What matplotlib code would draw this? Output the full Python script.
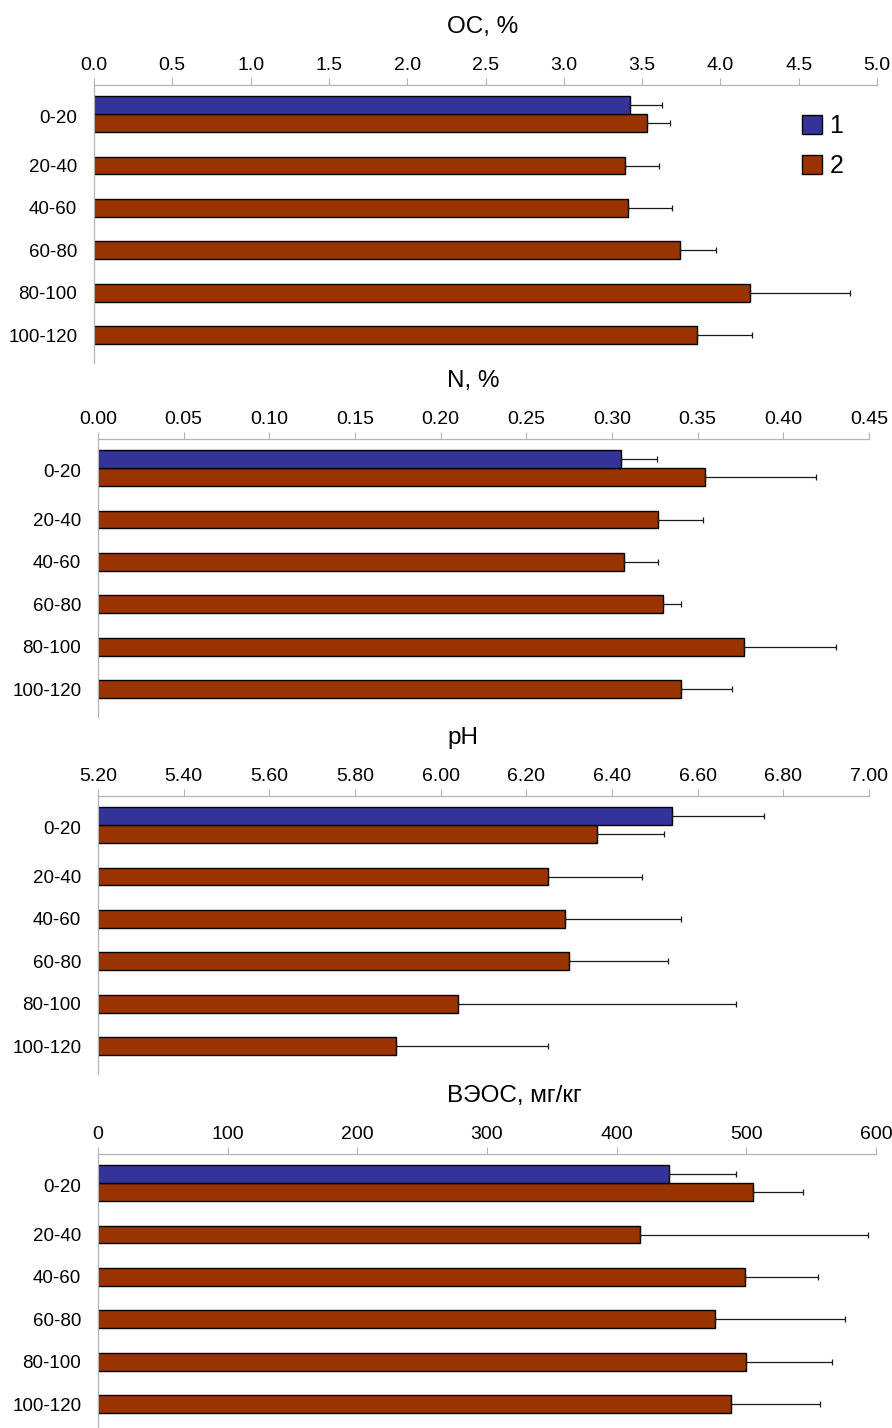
import matplotlib.pyplot as plt
from matplotlib.patches import Patch
from matplotlib.ticker import FormatStrFormatter
import numpy as np

plt.rcParams['font.family'] = ['Liberation Sans', 'DejaVu Sans']

depths = ['0-20', '20-40', '40-60', '60-80', '80-100', '100-120']

# series 1 exists only for the upper layer, series 2 for every layer
oc_1, oc_1_err = 3.42, 0.21
oc_2 = [3.53, 3.39, 3.41, 3.74, 4.19, 3.85]
oc_2_err = [0.15, 0.22, 0.28, 0.23, 0.64, 0.35]

n_1, n_1_err = 0.305, 0.021
n_2 = [0.354, 0.327, 0.307, 0.330, 0.377, 0.340]
n_2_err = [0.065, 0.026, 0.020, 0.010, 0.054, 0.030]

ph_1, ph_1_err = 6.54, 0.215
ph_2 = [6.366, 6.25, 6.29, 6.30, 6.04, 5.895]
ph_2_err = [0.155, 0.22, 0.27, 0.23, 0.65, 0.355]

veoc_1, veoc_1_err = 440, 52
veoc_2 = [505, 418, 499, 476, 500, 488]
veoc_2_err = [39, 176, 56, 100, 66, 69]

BLUE = '#333399'
BROWN = '#993300'
GRID = '#b4b4b4'

W, H = 892, 1428
fig = plt.figure(figsize=(W / 100, H / 100), dpi=100)

# (title, v1, e1, v2, e2, xmin, xmax, step, fmt, left, right, top px)
panels = [
    ('OC, %', oc_1, oc_1_err, oc_2, oc_2_err, 0.0, 5.0, 0.5, '%.1f', 94, 877, 85),
    ('N, %', n_1, n_1_err, n_2, n_2_err, 0.0, 0.45, 0.05, '%.2f', 98, 869, 439),
    ('pH', ph_1, ph_1_err, ph_2, ph_2_err, 5.2, 7.0, 0.2, '%.2f', 98, 869, 796),
    ('ВЭОС, мг/кг', veoc_1, veoc_1_err, veoc_2, veoc_2_err, 0, 600, 100, '%d', 98, 876, 1154),
]

ph = 278
bh = 0.42
ypos = np.arange(len(depths))

for i, (title, v1, e1, v2, e2, x0, x1, step, fmt, l, r, t) in enumerate(panels):
    ax = fig.add_axes([l / W, 1 - (t + ph) / H, (r - l) / W, ph / H])
    v2 = np.array(v2)
    ax.barh(ypos, v2 - x0, left=x0, height=bh, color=BROWN,
            edgecolor='black', linewidth=1.0, zorder=2)
    ax.errorbar(v2, ypos, xerr=[np.zeros(len(v2)), e2], fmt='none',
                ecolor='#1a1a1a', elinewidth=0.9, capsize=2.5, capthick=0.9, zorder=3)
    ax.barh([-bh], [v1 - x0], left=x0, height=bh, color=BLUE,
            edgecolor='black', linewidth=1.0, zorder=2)
    ax.errorbar([v1], [-bh], xerr=[[0], [e1]], fmt='none',
                ecolor='#1a1a1a', elinewidth=0.9, capsize=2.5, capthick=0.9, zorder=3)

    ax.set_xlim(x0, x1)
    ax.set_ylim(5.66, -0.9)
    ax.set_xticks(np.arange(x0, x1 + step / 2, step))
    ax.xaxis.set_major_formatter(FormatStrFormatter(fmt))
    ax.xaxis.tick_top()
    ax.tick_params(axis='x', direction='out', length=5, width=0.8, color=GRID,
                   pad=2.8, labelsize=14)
    label_pos = ypos.astype(float)
    label_pos[0] = -0.15
    ax.set_yticks(label_pos)
    ax.set_yticklabels(depths)
    ax.tick_params(axis='y', length=0, pad=12, labelsize=13.5)

    for side in ('right', 'bottom'):
        ax.spines[side].set_visible(False)
    for side in ('top', 'left'):
        ax.spines[side].set_color(GRID)
        ax.spines[side].set_linewidth(0.9)

    fig.text(447 / W, 1 - (t - 52) / H, title, ha='left', va='baseline', fontsize=17.5)

    if i == 0:
        handles = [Patch(facecolor=BLUE, edgecolor='black', label='1'),
                   Patch(facecolor=BROWN, edgecolor='black', label='2')]
        fig.legend(handles=handles, loc='upper left',
                   bbox_to_anchor=(802 / W, 1 - 114 / H), frameon=False,
                   fontsize=18, handlelength=0.8, handleheight=0.8,
                   handletextpad=0.3, labelspacing=0.65, borderpad=0,
                   borderaxespad=0)

fig.savefig('out.png', dpi=100)
